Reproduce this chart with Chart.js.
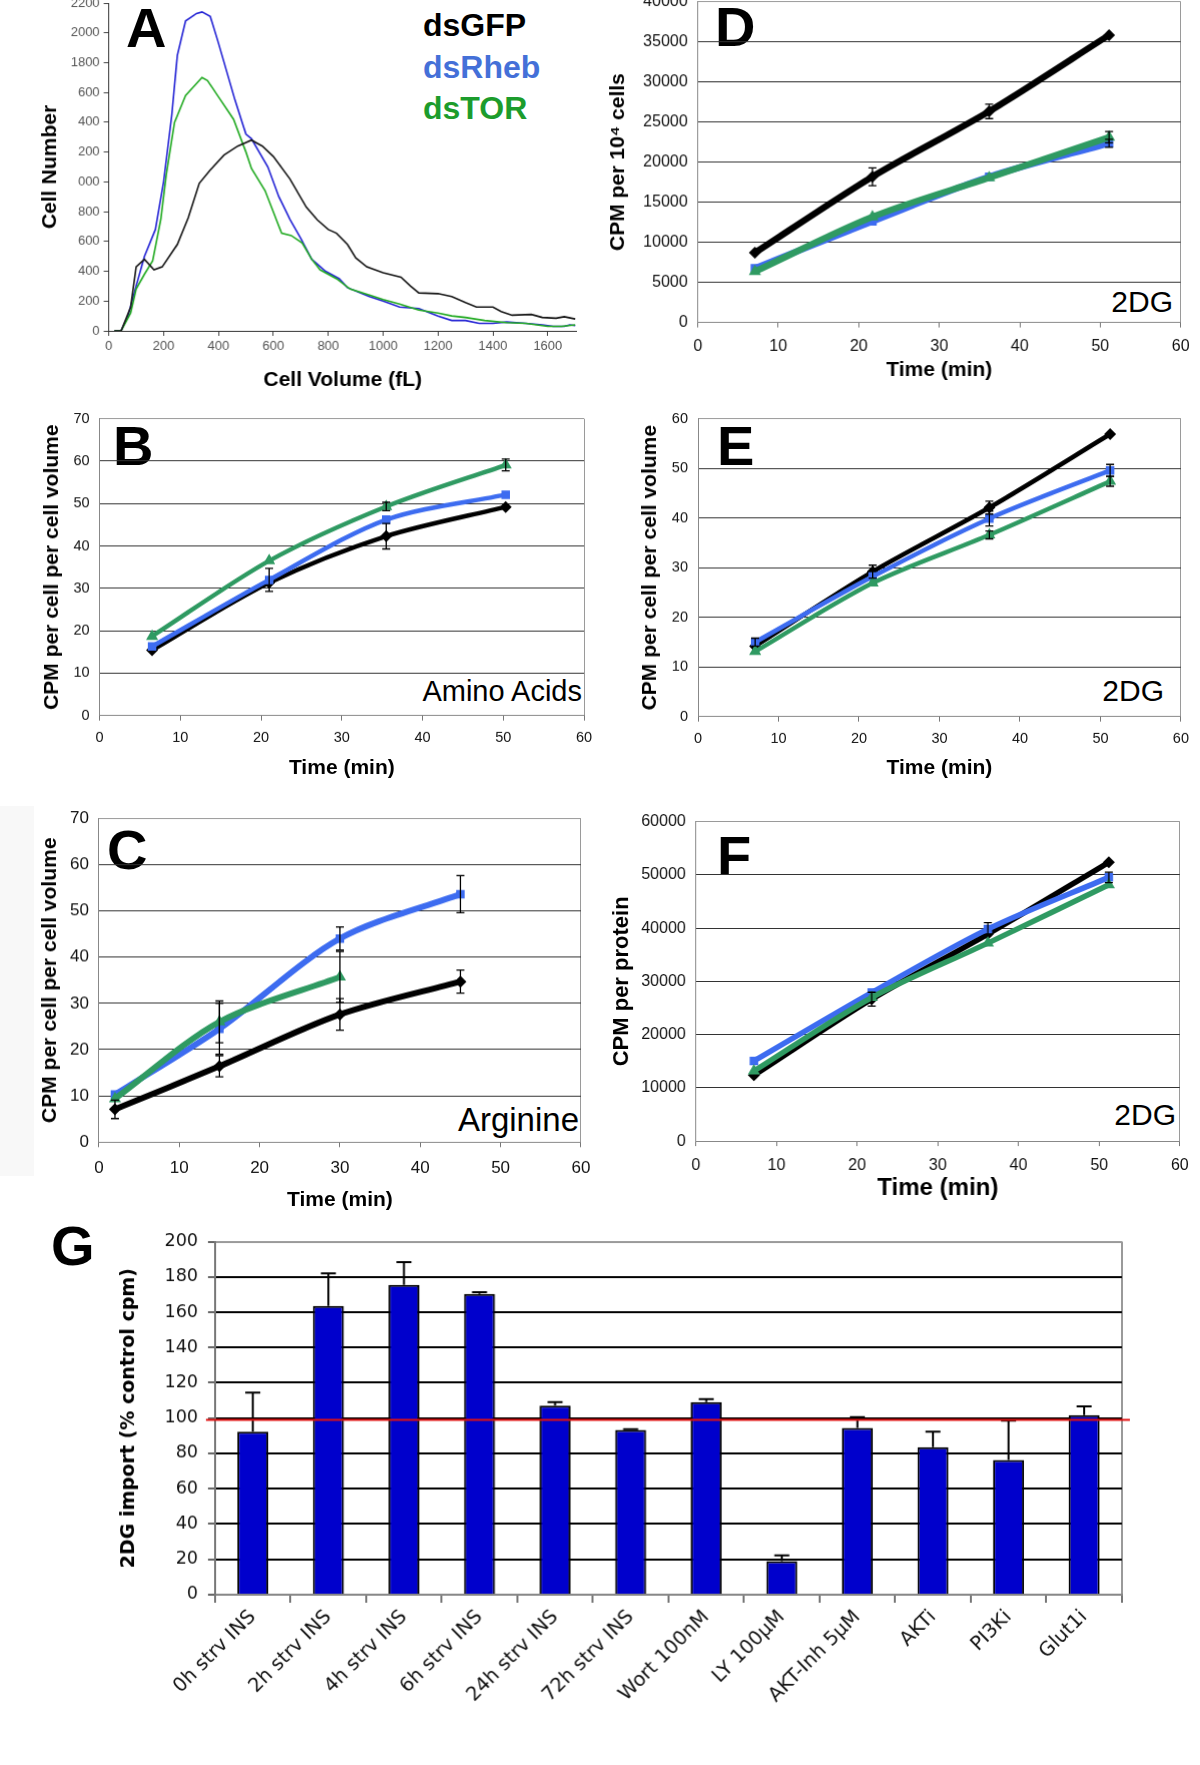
<!DOCTYPE html>
<html>
<head>
<meta charset="utf-8">
<script src="https://cdn.jsdelivr.net/npm/chart.js@4.4.1/dist/chart.umd.min.js"></script>
<style>
    body {margin: 0; background: #fff; width: 1200px; height: 1765px; position: relative; overflow: hidden;
        font-family: Arial, "Liberation Sans", sans-serif;}
    .box {position: absolute;}
    .txt {position: absolute; white-space: nowrap; line-height: 1; transform: translateY(-50%);}
    .letter {font-weight: bold; font-size: 56px; color: #000;}
    .note {font-size: 30px; color: #000;}
    .leg {font-weight: bold; font-size: 32px;}
</style>
</head>
<body>

<div class="box" style="left:0;top:806px;width:34px;height:370px;background:#f8f8f8"></div>

<div class="txt letter" style="left:126px;top:28px">A</div>
<div class="txt letter" style="left:715px;top:27px">D</div>
<div class="txt letter" style="left:113px;top:446px">B</div>
<div class="txt letter" style="left:717px;top:446px">E</div>
<div class="txt letter" style="left:107px;top:850px">C</div>
<div class="txt letter" style="left:717px;top:856px">F</div>
<div class="txt letter" style="left:51px;top:1246px">G</div>

<div class="txt leg" style="left:423px;top:25px;color:#000">dsGFP</div>
<div class="txt leg" style="left:423px;top:67px;color:#4470d8">dsRheb</div>
<div class="txt leg" style="left:423px;top:108px;color:#1c9c2c">dsTOR</div>

<div class="txt note" style="right:27px;top:302px">2DG</div>
<div class="txt note" style="right:618px;top:691px;font-size:29px">Amino Acids</div>
<div class="txt note" style="right:36px;top:691px">2DG</div>
<div class="txt note" style="right:621px;top:1119px;font-size:33px">Arginine</div>
<div class="txt note" style="right:24px;top:1115px">2DG</div>

<script>
// ---- A: cell volume distributions (fL vs cell number) ----
const volGFP = [20, 45, 80, 100, 130, 165, 195, 250, 290, 330, 370, 420, 470, 520, 560, 600, 660, 720, 760, 800,
    830, 870, 900, 940, 1000, 1065, 1100, 1130, 1200, 1250, 1300, 1340, 1400, 1430, 1470, 1540, 1580, 1630, 1660, 1700]
const cntGFP = [0, 0, 160, 430, 480, 410, 430, 580, 760, 990, 1080, 1180, 1240, 1280, 1240, 1170, 1020, 830, 745, 680,
    655, 580, 490, 430, 390, 360, 300, 255, 250, 230, 190, 160, 160, 130, 105, 110, 90, 85, 95, 80]
const volRheb = [20, 45, 70, 100, 130, 170, 200, 230, 250, 280, 320, 340, 370, 400, 460, 500, 520, 580, 620, 660,
    700, 740, 790, 840, 870, 950, 1000, 1060, 1130, 1200, 1250, 1300, 1350, 1400, 1450, 1520, 1580, 1620, 1660, 1680, 1700]
const cntRheb = [0, 0, 100, 300, 500, 680, 1000, 1450, 1850, 2080, 2130, 2140, 2110, 1930, 1550, 1320, 1290, 1100, 900, 750,
    620, 480, 400, 350, 290, 230, 200, 160, 150, 100, 70, 70, 50, 50, 60, 50, 40, 30, 30, 40, 35]
const volTOR = [20, 45, 80, 100, 130, 160, 190, 210, 240, 280, 310, 340, 360, 400, 455, 500, 520, 570, 630, 665,
    705, 740, 770, 830, 880, 950, 1000, 1060, 1130, 1200, 1250, 1300, 1370, 1450, 1520, 1600, 1650, 1700]
const cntTOR = [0, 0, 120, 280, 380, 470, 750, 1050, 1400, 1580, 1640, 1700, 1680, 1570, 1420, 1200, 1090, 940, 655, 640,
    590, 480, 410, 350, 280, 240, 210, 180, 140, 120, 100, 90, 70, 55, 50, 30, 30, 40]
// y tick labels as printed (leading digit lost on 1000-1600)
const cellTicksA = ['0', '200', '400', '600', '800', '000', '200', '400', '600', '1800', '2000', '2200']

// ---- B: amino acids, CPM per cell per cell volume ----
const timeB = [6.5, 21, 35.5, 50.3]
const gfpB = [15.4, 31.3, 42.3, 49.2]
const gfpErrB = [null, null, 3, null]
const rhebB = [16.3, 32, 46.2, 52.1]
const rhebErrB = [null, 2.7, null, null]
const torB = [18.7, 36.5, 49.3, 59.1]
const torErrB = [null, null, 1, 1.4]

// ---- C: arginine ----
const timeC = [2, 15, 30, 45]
const gfpC = [7.1, 16.4, 27.6, 34.7]
const gfpErrC = [2, 2.3, 3.4, 2.5]
const rhebC = [10.3, 24.5, 44.0, 53.6]
const rhebErrC = [null, 5.5, 2.5, 4]
const torC = [9.4, 26.0, 35.7, null]
const torErrC = [null, 4.5, 5.5, null]

// ---- D: 2DG, CPM per 10^4 cells ----
const timeD = [7.1, 21.7, 36.2, 51.1]
const gfpD = [8690, 18170, 26320, 35840]
const gfpErrD = [null, 1100, 900, null]
const rhebD = [6770, 12620, 18170, 22350]
const rhebErrD = [null, null, null, 500]
const torD = [6350, 13160, 18050, 23100]
const torErrD = [null, null, null, 700]

// ---- E: 2DG, CPM per cell per cell volume ----
const timeE = [7.1, 21.7, 36.2, 51.2]
const gfpE = [14.2, 29.2, 42.1, 56.9]
const gfpErrE = [null, 1.3, 1.3, null]
const rhebE = [15.0, 28.2, 39.9, 49.6]
const rhebErrE = [0.8, null, 1.5, 1.2]
const torE = [13.1, 26.9, 36.6, 47.4]
const torErrE = [null, null, 0.8, 1.0]

// ---- F: 2DG, CPM per protein ----
const timeF = [7.2, 21.8, 36.2, 51.2]
const gfpF = [12350, 26650, 38870, 52350]
const gfpErrF = [null, 1300, null, null]
const rhebF = [15050, 27900, 39810, 49530]
const rhebErrF = [null, null, 1200, 1000]
const torF = [13170, 26960, 37180, 48150]
const torErrF = [null, null, null, null]

// ---- G: 2DG import, % of control ----
const treatG = ['0h strv INS', '2h strv INS', '4h strv INS', '6h strv INS', '24h strv INS', '72h strv INS',
    'Wort 100nM', 'LY 100µM', 'AKT-Inh 5µM', 'AKTi', 'PI3Ki', 'Glut1i']
const importG = [92.3, 163.5, 175.4, 170.3, 107.1, 93.3, 109.1, 18.9, 94.4, 83.5, 76.3, 101.7]
const importErrG = [22.2, 18.5, 12.9, 1.0, 2.0, 0.4, 1.7, 3.3, 6.1, 8.8, 22.2, 5.0]
const controlLevelG = 99

const ARIAL = 'Arial, "Liberation Sans", sans-serif'
const VERDANA = '"DejaVu Sans", Verdana, sans-serif'
const PLAIN = {useGrouping: false}

const errorBars = {
    id: 'errorBars',
    afterDatasetsDraw(chart) {
        const ctx = chart.ctx
        chart.data.datasets.forEach((ds, i) => {
            if (!ds.errors) return
            const meta = chart.getDatasetMeta(i)
            const ys = chart.scales[meta.yAxisID]
            ctx.save()
            ctx.strokeStyle = ds.errorColor || '#000'
            ctx.lineWidth = ds.errorWidth || 1.3
            meta.data.forEach((el, j) => {
                const raw = ds.data[j]
                const v = raw !== null && typeof raw === 'object' ? raw.y : raw
                const e = ds.errors[j]
                if (v == null || e == null) return
                const cap = ds.errorCap || 4
                const top = ys.getPixelForValue(v + e)
                const bot = ds.errorUpOnly ? ys.getPixelForValue(v) : ys.getPixelForValue(v - e)
                ctx.beginPath()
                ctx.moveTo(el.x, top)
                ctx.lineTo(el.x, bot)
                ctx.moveTo(el.x - cap, top)
                ctx.lineTo(el.x + cap, top)
                if (!ds.errorUpOnly) {
                    ctx.moveTo(el.x - cap, bot)
                    ctx.lineTo(el.x + cap, bot)
                }
                ctx.stroke()
            })
            ctx.restore()
        })
    },
}

const controlLine = {
    id: 'controlLine',
    afterDatasetsDraw(chart) {
        const {ctx, chartArea} = chart
        const y = chart.scales.y.getPixelForValue(controlLevelG)
        ctx.save()
        ctx.strokeStyle = '#e01010'
        ctx.lineWidth = 2
        ctx.beginPath()
        ctx.moveTo(chartArea.left - 9, y)
        ctx.lineTo(chartArea.right + 8, y)
        ctx.stroke()
        ctx.restore()
    },
}

// place a canvas so the chart area lands on the given rectangle
function makeBox(p) {
    const lhY = p.yTitleSize * 1.2
    const left = p.yTitleX - lhY / 2
    const top = p.area.t - 12
    const right = p.area.r + (p.padRight || 15)
    const bottom = p.xTitleY ? p.xTitleY + p.xTitleSize * 1.2 / 2 : p.bottom
    const div = document.createElement('div')
    div.className = 'box'
    div.style.left = left + 'px'
    div.style.top = top + 'px'
    div.style.width = (right - left) + 'px'
    div.style.height = (bottom - top) + 'px'
    const canvas = document.createElement('canvas')
    div.appendChild(canvas)
    document.body.appendChild(div)
    return {
        canvas, div, top, bottom,
        yw: p.area.l - left,
        xh: bottom - p.area.b,
        padding: {top: 12, right: right - p.area.r, left: 0, bottom: 0},
    }
}

// nudge the box so the plot area top/bottom sit exactly on the target
function pinArea(chart, b, p) {
    for (let k = 0; k < 2; k++) {
        const ca = chart.chartArea
        const h = chart.height
        const newTop = p.area.t - ca.top
        const newBottom = p.area.b + (h - ca.bottom)
        if (Math.abs(newTop - b.top) < 0.3 && Math.abs(newBottom - b.bottom) < 0.3) break
        b.top = newTop
        b.bottom = newBottom
        b.div.style.top = newTop + 'px'
        b.div.style.height = (newBottom - newTop) + 'px'
        chart.resize()
    }
}

function pts(xs, ys) {
    return xs.map((x, i) => ({x, y: ys[i]})).filter(d => d.y != null)
}

const SERIES = {
    gfp: {color: '#000000', style: 'rectRot', r: 6},
    rheb: {color: '#3d6cf0', style: 'rect', r: 6},
    tor: {color: '#2f9a62', style: 'triangle', r: 7},
}

function lineSet(key, xs, ys, errs, lw) {
    const s = SERIES[key]
    return {
        data: pts(xs, ys),
        errors: errs,
        borderColor: s.color,
        backgroundColor: s.color,
        borderWidth: lw,
        pointStyle: s.style,
        pointRadius: s.r,
        pointBorderWidth: 0,
        pointBackgroundColor: s.color,
        tension: 0.3,
    }
}

function timeChart(p) {
    const b = makeBox(p)
    const yMax = p.yMax
    const chart = new Chart(b.canvas.getContext('2d'), {
        type: 'line',
        data: {
            datasets: [
                lineSet('tor', p.time, p.tor, p.torErr, p.lw),
                lineSet('rheb', p.time, p.rheb, p.rhebErr, p.lw),
                lineSet('gfp', p.time, p.gfp, p.gfpErr, p.lw),
            ],
        },
        options: {
            responsive: true,
            maintainAspectRatio: false,
            animation: false,
            layout: {padding: b.padding, autoPadding: false},
            plugins: {legend: {display: false}, tooltip: {enabled: false}},
            scales: {
                x: {
                    type: 'linear', min: 0, max: 60,
                    afterFit: s => { s.height = b.xh },
                    ticks: {stepSize: 10, includeBounds: false, color: '#111', padding: p.xPad,
                        format: PLAIN, font: {family: ARIAL, size: p.tickSize}},
                    grid: {
                        color: c => c.tick && c.tick.value === 60 ? '#9a9a9a' : 'rgba(0,0,0,0)',
                        tickColor: '#777', tickLength: 5, lineWidth: 1,
                    },
                    border: {color: '#888', width: 1},
                    title: {display: true, text: 'Time (min)', color: '#000', padding: 0,
                        font: {family: ARIAL, size: p.xTitleSize, weight: 'bold'}},
                },
                y: {
                    min: 0, max: yMax,
                    afterFit: s => { s.width = b.yw },
                    ticks: {stepSize: p.yStep, color: '#111', padding: 10, format: PLAIN,
                        font: {family: ARIAL, size: p.tickSize}},
                    grid: {
                        color: c => c.tick && c.tick.value === yMax ? '#9a9a9a' : '#333',
                        drawTicks: false, lineWidth: 1,
                    },
                    border: {color: '#888', width: 1},
                    title: {display: true, text: p.yTitle, color: '#000', padding: 0,
                        font: {family: ARIAL, size: p.yTitleSize, weight: 'bold'}},
                },
            },
        },
        plugins: [errorBars],
    })
    pinArea(chart, b, p)
}

// ---- panel A ----
{
    const p = {area: {l: 109, t: 3, r: 576, b: 330}, yTitleX: 51, yTitleSize: 21, xTitleY: 379, xTitleSize: 21}
    const b = makeBox(p)
    const thin = (xs, ys, c) => ({data: pts(xs, ys), borderColor: c, borderWidth: 1.6, pointRadius: 0, tension: 0})
    const chart = new Chart(b.canvas.getContext('2d'), {
        type: 'line',
        data: {
            datasets: [
                thin(volGFP, cntGFP, '#151515'),
                thin(volTOR, cntTOR, '#22aa22'),
                thin(volRheb, cntRheb, '#2222d4'),
            ],
        },
        options: {
            responsive: true,
            maintainAspectRatio: false,
            animation: false,
            layout: {padding: b.padding, autoPadding: false},
            plugins: {legend: {display: false}, tooltip: {enabled: false}},
            scales: {
                x: {
                    type: 'linear', min: 0, max: 1705,
                    afterFit: s => { s.height = b.xh },
                    ticks: {stepSize: 200, includeBounds: false, color: '#555', padding: 3, format: PLAIN,
                        font: {family: ARIAL, size: 13}},
                    grid: {drawOnChartArea: false, tickLength: 5, tickColor: '#444'},
                    border: {color: '#333', width: 1},
                    title: {display: true, text: 'Cell Volume (fL)', color: '#000', padding: 0,
                        font: {family: ARIAL, size: 21, weight: 'bold'}},
                },
                y: {
                    min: 0, max: 2200,
                    afterFit: s => { s.width = b.yw },
                    ticks: {stepSize: 200, color: '#555', padding: 4, font: {family: ARIAL, size: 13},
                        callback: v => cellTicksA[Math.round(v / 200)]},
                    grid: {drawOnChartArea: false, tickLength: 5, tickColor: '#444'},
                    border: {color: '#333', width: 1},
                    title: {display: true, text: 'Cell Number', color: '#000', padding: 0,
                        font: {family: ARIAL, size: 21, weight: 'bold'}},
                },
            },
        },
    })
    pinArea(chart, b, p)
}

timeChart({area: {l: 698, t: 2, r: 1184, b: 322}, yTitleX: 619, yTitleSize: 21, xTitleY: 370, xTitleSize: 21,
    padRight: 14, yMax: 40000, yStep: 5000, tickSize: 16, xPad: 9, lw: 6.5, yTitle: 'CPM per 10⁴ cells',
    time: timeD, gfp: gfpD, gfpErr: gfpErrD, rheb: rhebD, rhebErr: rhebErrD, tor: torD, torErr: torErrD})

timeChart({area: {l: 100, t: 419, r: 586.5, b: 715}, yTitleX: 53, yTitleSize: 21, xTitleY: 768, xTitleSize: 21,
    yMax: 70, yStep: 10, tickSize: 14.5, xPad: 9, lw: 4.5, yTitle: 'CPM per cell per cell volume',
    time: timeB, gfp: gfpB, gfpErr: gfpErrB, rheb: rhebB, rhebErr: rhebErrB, tor: torB, torErr: torErrB})

timeChart({area: {l: 698, t: 419, r: 1184, b: 716}, yTitleX: 650.6, yTitleSize: 21, xTitleY: 768, xTitleSize: 21,
    padRight: 14, yMax: 60, yStep: 10, tickSize: 14.5, xPad: 9, lw: 4.5, yTitle: 'CPM per cell per cell volume',
    time: timeE, gfp: gfpE, gfpErr: gfpErrE, rheb: rhebE, rhebErr: rhebErrE, tor: torE, torErr: torErrE})

timeChart({area: {l: 99, t: 818.4, r: 586.5, b: 1141.5}, yTitleX: 50.7, yTitleSize: 21, xTitleY: 1199, xTitleSize: 21,
    yMax: 70, yStep: 10, tickSize: 17, xPad: 11, lw: 6, yTitle: 'CPM per cell per cell volume',
    time: timeC, gfp: gfpC, gfpErr: gfpErrC, rheb: rhebC, rhebErr: rhebErrC, tor: torC, torErr: torErrC})

timeChart({area: {l: 696, t: 822, r: 1184, b: 1141.5}, yTitleX: 622.5, yTitleSize: 22, xTitleY: 1189, xTitleSize: 24,
    padRight: 14, yMax: 60000, yStep: 10000, tickSize: 16, xPad: 10, lw: 5.5, yTitle: 'CPM per protein',
    time: timeF, gfp: gfpF, gfpErr: gfpErrF, rheb: rhebF, rhebErr: rhebErrF, tor: torF, torErr: torErrF})

// ---- panel G ----
{
    const p = {area: {l: 215, t: 1241.6, r: 1121, b: 1594}, yTitleX: 129.5, yTitleSize: 19, bottom: 1765, padRight: 20}
    const b = makeBox(p)
    const chart = new Chart(b.canvas.getContext('2d'), {
        type: 'bar',
        data: {
            labels: treatG,
            datasets: [{
                data: importG,
                errors: importErrG,
                errorUpOnly: true,
                errorWidth: 2,
                errorCap: 7.5,
                backgroundColor: '#0000cc',
                borderColor: '#000',
                borderWidth: 2,
                barPercentage: 0.41,
                categoryPercentage: 1,
            }],
        },
        options: {
            responsive: true,
            maintainAspectRatio: false,
            animation: false,
            layout: {padding: b.padding, autoPadding: false},
            plugins: {legend: {display: false}, tooltip: {enabled: false}},
            scales: {
                x: {
                    afterFit: s => { s.height = b.xh },
                    ticks: {minRotation: 45, maxRotation: 45, autoSkip: false, color: '#111', padding: 3,
                        font: {family: VERDANA, size: 19.5}},
                    grid: {offset: true, color: c => c.tick ? 'rgba(0,0,0,0)' : '#9a9a9a', lineWidth: 2,
                        tickLength: 8, tickColor: '#777'},
                    border: {color: '#888', width: 2},
                },
                y: {
                    min: 0, max: 200,
                    afterFit: s => { s.width = b.yw },
                    ticks: {stepSize: 20, color: '#111', padding: 10, font: {family: VERDANA, size: 17.5}},
                    grid: {color: c => c.tick && c.tick.value === 200 ? '#9a9a9a' : '#000', lineWidth: 2,
                        tickLength: 7, tickColor: '#666'},
                    border: {color: '#777', width: 2},
                    title: {display: true, text: '2DG import (% control cpm)', color: '#000', padding: 0,
                        font: {family: VERDANA, size: 19, weight: 'bold'}},
                },
            },
        },
        plugins: [errorBars, controlLine],
    })
    pinArea(chart, b, p)
}
</script>
</body>
</html>
